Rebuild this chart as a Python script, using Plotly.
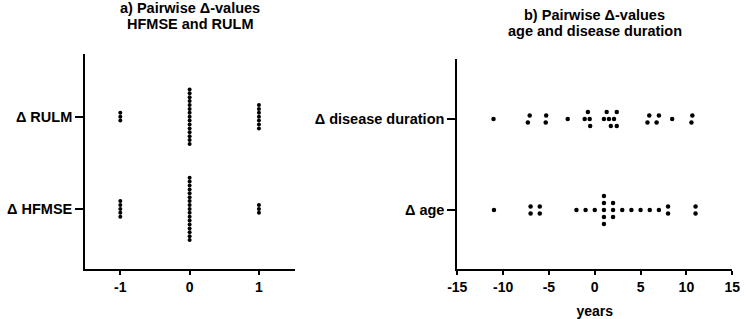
import numpy as np
import plotly.graph_objects as go

W, H = 749, 319

# ---------------- data ----------------
categories_a = ["Δ HFMSE", "Δ RULM"]
hfmse_delta = [-1, -1, -1, -1, -1,
               0, 0, 0, 0, 0, 0, 0, 0, 0, 0, 0, 0, 0, 0, 0, 0, 0,
               1, 1, 1]
rulm_delta = [-1, -1, -1,
              0, 0, 0, 0, 0, 0, 0, 0, 0, 0, 0, 0, 0, 0, 0,
              1, 1, 1, 1, 1, 1, 1]
xticks_a = [-1, 0, 1]

categories_b = ["Δ age", "Δ disease duration"]
age_delta = [-11, -7, -7, -6, -6, -2, -1, 0, 1, 1, 1, 1, 1, 2, 2, 2,
             3, 4, 5, 6, 7, 8, 8, 11, 11]
dd_delta = [-11.05, -7.3, -7.1, -5.35, -5.3, -2.95, -1.1, -0.75, -0.55, -0.5,
            1.0, 1.3, 1.55, 1.75, 2.1, 2.4, 2.4, 5.75, 5.95, 6.75, 7.0, 8.45,
            10.55, 10.65]
xticks_b = [-15, -10, -5, 0, 5, 10, 15]
xlabel_b = "years"
title_a = ["a) Pairwise Δ-values", "HFMSE and RULM"]
title_b = ["b) Pairwise Δ-values", "age and disease duration"]

# ---------------- layout geometry ----------------
xdom_a = [77 / W, 292 / W]
ydom_a = [1 - 269 / H, 1 - 54 / H]
xdom_b = [458.3 / W, 740 / W]
ydom_b = [1 - 269 / H, 1 - 59 / H]
xr_a = [-1.507, 1.52]
yr_a = [-0.652, 1.68]
xr_b = [-15, 15]
yr_b = [-0.648, 1.66]


def px_per(dom, rng, size):
    return (dom[1] - dom[0]) * size / (rng[1] - rng[0])


def swarm(vals, ppx, step_px, diam_px):
    vals = np.asarray(vals, dtype=float)
    order = np.argsort(vals, kind="stable")
    placed = []
    lev = np.zeros(len(vals))
    cands = [0]
    for k in range(1, 40):
        cands += [k, -k]
    for i in order:
        x = vals[i] * ppx
        for c in cands:
            y = c * step_px
            ok = all((x - px) ** 2 + (y - py) ** 2 >= diam_px ** 2 - 1e-6
                     for px, py in placed)
            if ok:
                break
        placed.append((x, y))
        lev[i] = c
    # centre each cluster of touching points
    xs = vals[order] * ppx
    clusters = [[order[0]]]
    for j in range(1, len(order)):
        if xs[j] - xs[j - 1] < diam_px:
            clusters[-1].append(order[j])
        else:
            clusters.append([order[j]])
    for cl in clusters:
        ls = lev[cl]
        lev[cl] = ls - (ls.min() + ls.max()) / 2
    return lev * step_px


ppx_a = px_per(xdom_a, xr_a, W)
ppy_a = px_per(ydom_a, yr_a, H)
ppx_b = px_per(xdom_b, xr_b, W)
ppy_b = px_per(ydom_b, yr_b, H)

fig = go.Figure()

for idx, vals in enumerate([hfmse_delta, rulm_delta]):
    off = swarm(vals, ppx_a, 3.9, 3.9)
    fig.add_trace(go.Scatter(x=vals, y=idx + off / ppy_a, mode="markers",
                             marker=dict(color="black", size=4, line=dict(width=0)),
                             xaxis="x", yaxis="y",
                             showlegend=False, hoverinfo="x"))

for idx, vals in enumerate([age_delta, dd_delta]):
    off = swarm(vals, ppx_b, 7.0, 4.8)
    fig.add_trace(go.Scatter(x=vals, y=idx + off / ppy_b, mode="markers",
                             marker=dict(color="black", size=4.5, line=dict(width=0)),
                             xaxis="x2", yaxis="y2",
                             showlegend=False, hoverinfo="x"))

font = dict(family="Liberation Sans, Arial, sans-serif", color="black")
xtfont = dict(font, size=14, weight="bold")
ytfont = dict(font, size=14.5, weight="bold")
axcommon = dict(showline=True, linecolor="black", linewidth=2, showgrid=False,
                zeroline=False, ticks="outside", tickcolor="black", tickwidth=2,
                fixedrange=True)

fig.update_layout(
    width=W, height=H, margin=dict(l=0, r=0, t=0, b=0),
    paper_bgcolor="white", plot_bgcolor="white",
    font=font,
    xaxis=dict(axcommon, domain=xdom_a, range=xr_a, tickvals=xticks_a,
               ticktext=[str(v) for v in xticks_a], tickfont=xtfont,
               ticklen=4, anchor="y"),
    yaxis=dict(axcommon, domain=ydom_a, range=yr_a, tickvals=[0, 1],
               ticktext=categories_a, tickfont=ytfont, ticklen=8, anchor="x"),
    xaxis2=dict(axcommon, domain=xdom_b, range=xr_b, tickvals=xticks_b,
                ticktext=[str(v) for v in xticks_b], tickfont=xtfont,
                ticklen=4, anchor="y2",
                title=dict(text=xlabel_b, font=xtfont, standoff=12)),
    yaxis2=dict(axcommon, domain=ydom_b, range=yr_b, tickvals=[0, 1],
                ticktext=categories_b, tickfont=ytfont, ticklen=8, anchor="x2"),
)

title_font = dict(font, size=14.5, weight="bold")
for (cx, ys, lines) in [((xdom_a[0] + xdom_a[1]) / 2, (7.7, 23.7), title_a),
                        ((xdom_b[0] + xdom_b[1]) / 2, (15.3, 31.4), title_b)]:
    for yc, txt in zip(ys, lines):
        fig.add_annotation(x=cx, y=1 - yc / H, xref="paper", yref="paper",
                           text=txt, showarrow=False, xanchor="center",
                           yanchor="middle", font=title_font)

fig.write_html("out.html")
